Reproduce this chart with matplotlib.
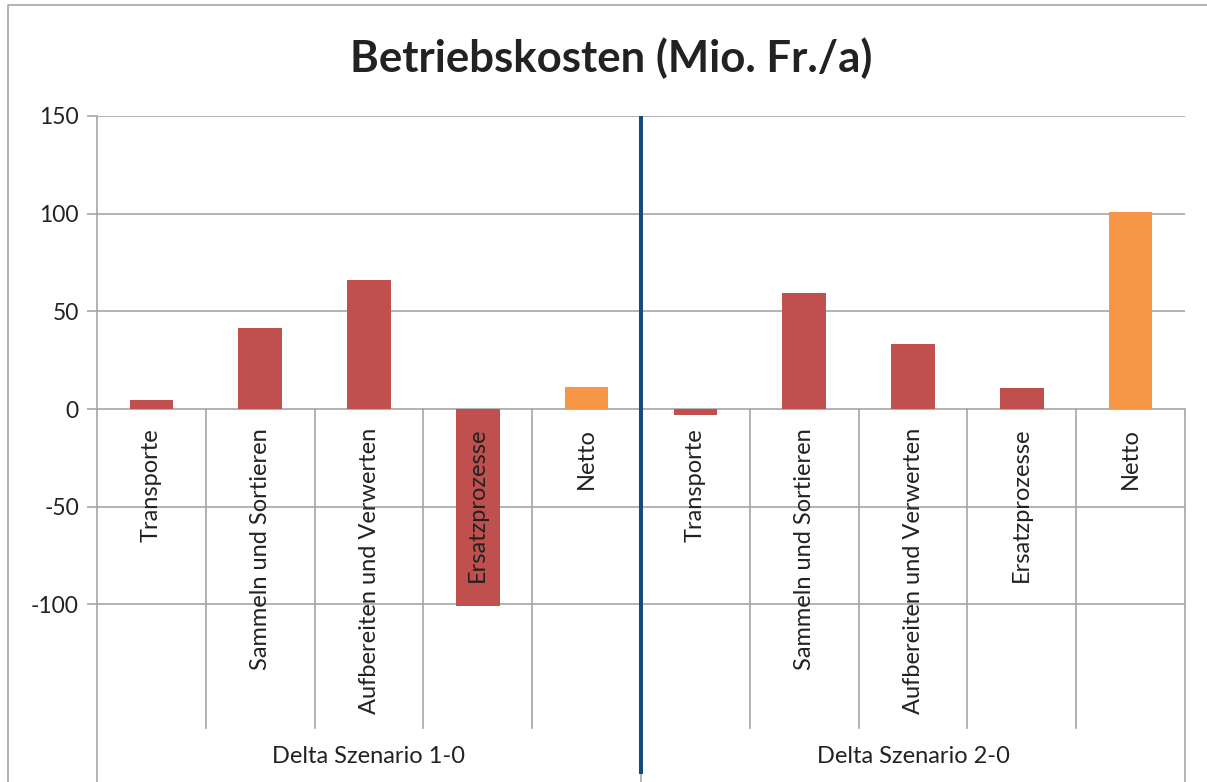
import numpy as np
import matplotlib
import matplotlib.pyplot as plt
from matplotlib.lines import Line2D

matplotlib.use('Agg')

# Data (Mio. Fr./a)
categories = ['Transporte', 'Sammeln und Sortieren', 'Aufbereiten und Verwerten',
              'Ersatzprozesse', 'Netto']
groups = ['Delta Szenario 1-0', 'Delta Szenario 2-0']
values_1_0 = [4.6, 41.5, 66.0, -101.0, 11.3]
values_2_0 = [-3.0, 59.4, 33.3, 10.7, 100.8]
y_ticks = [-100, -50, 0, 50, 100, 150]

red = '#C0504D'
orange = '#F79646'
grid_col = '#A6A6A6'
blue = '#17497D'
txt = '#222222'

plt.rcParams['font.family'] = ['Lato', 'DejaVu Sans']

W, H = 1207, 782
fig = plt.figure(figsize=(W / 100, H / 100), dpi=100)

# outer chart frame: only top and left edges are inside the picture
fig.add_artist(Line2D([8 / W, 8 / W, 1.0], [0, (H - 5) / H, (H - 5) / H],
                      transform=fig.transFigure, color=grid_col, lw=1.2))

ax = fig.add_axes([97 / W, 0, (1185 - 97) / W, (H - 116) / H])

vals = values_1_0 + values_2_0
cols = [red, red, red, red, orange] * 2
x = np.arange(len(vals))
ax.bar(x, vals, width=0.4, color=cols, zorder=2)

ymin = -190.9
ax.set_ylim(ymin, 150)
ax.set_xlim(-0.5, len(vals) - 0.5)
ax.set_yticks(y_ticks)
ax.set_yticklabels([str(t) for t in y_ticks], fontsize=16.5, color=txt)
ax.set_xticks([])
ax.yaxis.grid(True, color=grid_col, lw=1.2)
ax.set_axisbelow(True)
ax.tick_params(axis='y', length=7, width=1.2, color=grid_col, pad=6)
for s in ['top', 'right', 'bottom']:
    ax.spines[s].set_visible(False)
ax.spines['left'].set_color(grid_col)
ax.spines['left'].set_linewidth(1.2)

# category separators and group separators
n = len(categories)
label_bottom = -163.3
for i in range(1, len(vals)):
    if i % n == 0:
        continue
    ax.plot([i - 0.5, i - 0.5], [label_bottom, 0], color=grid_col, lw=1.2, zorder=1)
for b in [n - 0.5, len(vals) - 0.5]:
    ax.plot([b, b], [ymin, 0], color=grid_col, lw=1.2, zorder=1, clip_on=False)

# category labels (rotated) and group labels
for gi, g in enumerate(groups):
    for ci, c in enumerate(categories):
        ax.text(gi * n + ci, -9.7, c, rotation=90, ha='center', va='top',
                fontsize=17, color=txt, zorder=4)
    ax.text(gi * n + (n - 1) / 2, -178, g, ha='center', va='center',
            fontsize=17, color=txt)

# blue divider between the two scenarios
ax.plot([n - 0.5, n - 0.5], [150, -185.9], color=blue, lw=2.9, zorder=5)

fig.text(611 / W, 1 - 58 / H, 'Betriebskosten (Mio. Fr./a)', ha='center',
         va='center', fontsize=31.5, fontweight='bold', color=txt)

fig.savefig('out.png', dpi=100)
